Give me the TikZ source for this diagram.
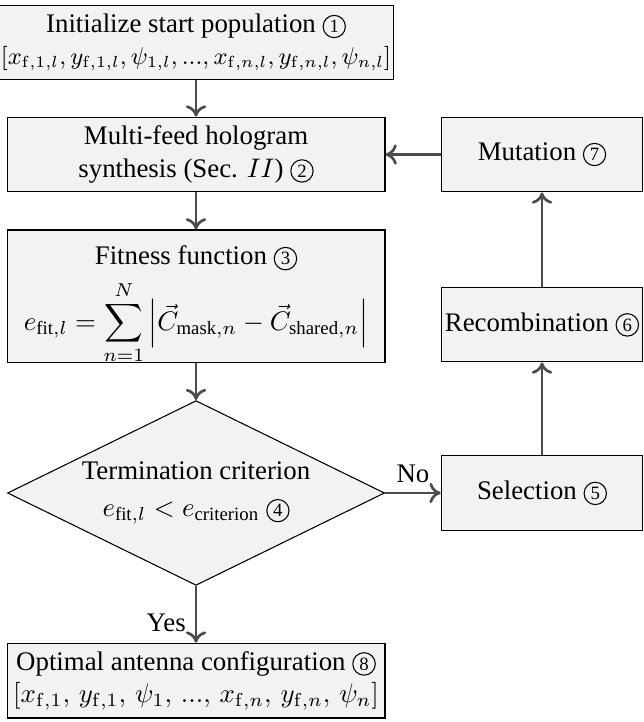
\documentclass[tikz,border=0pt]{standalone}
\usepackage{amsmath}
\usepackage[no-math]{fontspec}
\setmainfont{Liberation Serif}
\usetikzlibrary{shapes.geometric, arrows.meta}

% circled step number
\newcommand{\stepnum}[1]{\tikz[baseline=(c.base)]\node[shape=circle, draw=black, fill=none, minimum width=0pt, minimum height=0pt, line width=0.4pt, inner sep=0.9pt, font=\scriptsize] (c) {#1};}

\begin{document}
\begin{tikzpicture}[
    mainbox/.style={draw, rectangle, line width=0.4pt, fill=black!5, minimum width=4.95cm, minimum height=0.98cm, align=center, inner sep=1pt},
    sidebox/.style={draw, rectangle, line width=0.4pt, fill=black!5, minimum width=2.64cm, minimum height=0.98cm, align=center, inner sep=1pt},
    decision/.style={draw, diamond, line width=0.4pt, fill=black!5, minimum width=4.94cm, minimum height=2.42cm, aspect=2.04, align=center, inner sep=0pt},
    flow/.style={-{To[width=7.6pt, length=4.2pt]}, line width=1pt, black!70}
]
\useasboundingbox (0,0) rectangle (8.436,-9.458);

% main column
\node[mainbox] (init) at (2.568,-0.557) {Initialize start population \stepnum{1}\\
    {\fontsize{8.9}{11}\selectfont$\left[x_{\mathrm{f},1,l}, y_{\mathrm{f},1,l}, \psi_{1,l}, ..., x_{\mathrm{f},n,l}, y_{\mathrm{f},n,l}, \psi_{n,l}\right]$}};
\node[mainbox] (synth) at (2.568,-2.024) {Multi-feed hologram\\ synthesis (Sec. $II$) \stepnum{2}};
\node[mainbox, minimum height=1.73cm, text depth=6pt] (fit) at (2.568,-3.878) {Fitness function \stepnum{3}\\[3pt]
    $\displaystyle e_{\text{fit},l} = \sum_{n=1}^{N} \left|\vec{C}_{\text{mask},n} - \vec{C}_{\text{shared},n}\right|$};
\node[decision] (term) at (2.568,-6.458) {Termination criterion\\[2pt] $e_{\text{fit},l} < e_{\text{criterion}}$ \stepnum{4}};
\node[mainbox] (opt) at (2.568,-8.915) {Optimal antenna configuration \stepnum{8}\\
    $\left[x_{\mathrm{f},1},\, y_{\mathrm{f},1},\, \psi_1,\, ...,\, x_{\mathrm{f},n},\, y_{\mathrm{f},n},\, \psi_n\right]$};

% genetic loop
\node[sidebox] (sel) at (7.100,-6.458) {Selection \stepnum{5}};
\node[sidebox] (rec) at (7.100,-4.251) {Recombination \stepnum{6}};
\node[sidebox] (mut) at (7.100,-2.024) {Mutation \stepnum{7}};

% arrows
\draw[flow] (init) -- (synth);
\draw[flow] (synth) -- (fit);
\draw[flow] (fit) -- (term);
\draw[flow] (term.south) -- node[left, pos=0.65, black] {Yes} (opt);
\draw[flow] (term.east) -- node[above, black] {No} (sel);
\draw[flow] (sel) -- (rec);
\draw[flow] (rec) -- (mut);
\draw[flow] (mut) -- (synth);
\end{tikzpicture}
\end{document}
